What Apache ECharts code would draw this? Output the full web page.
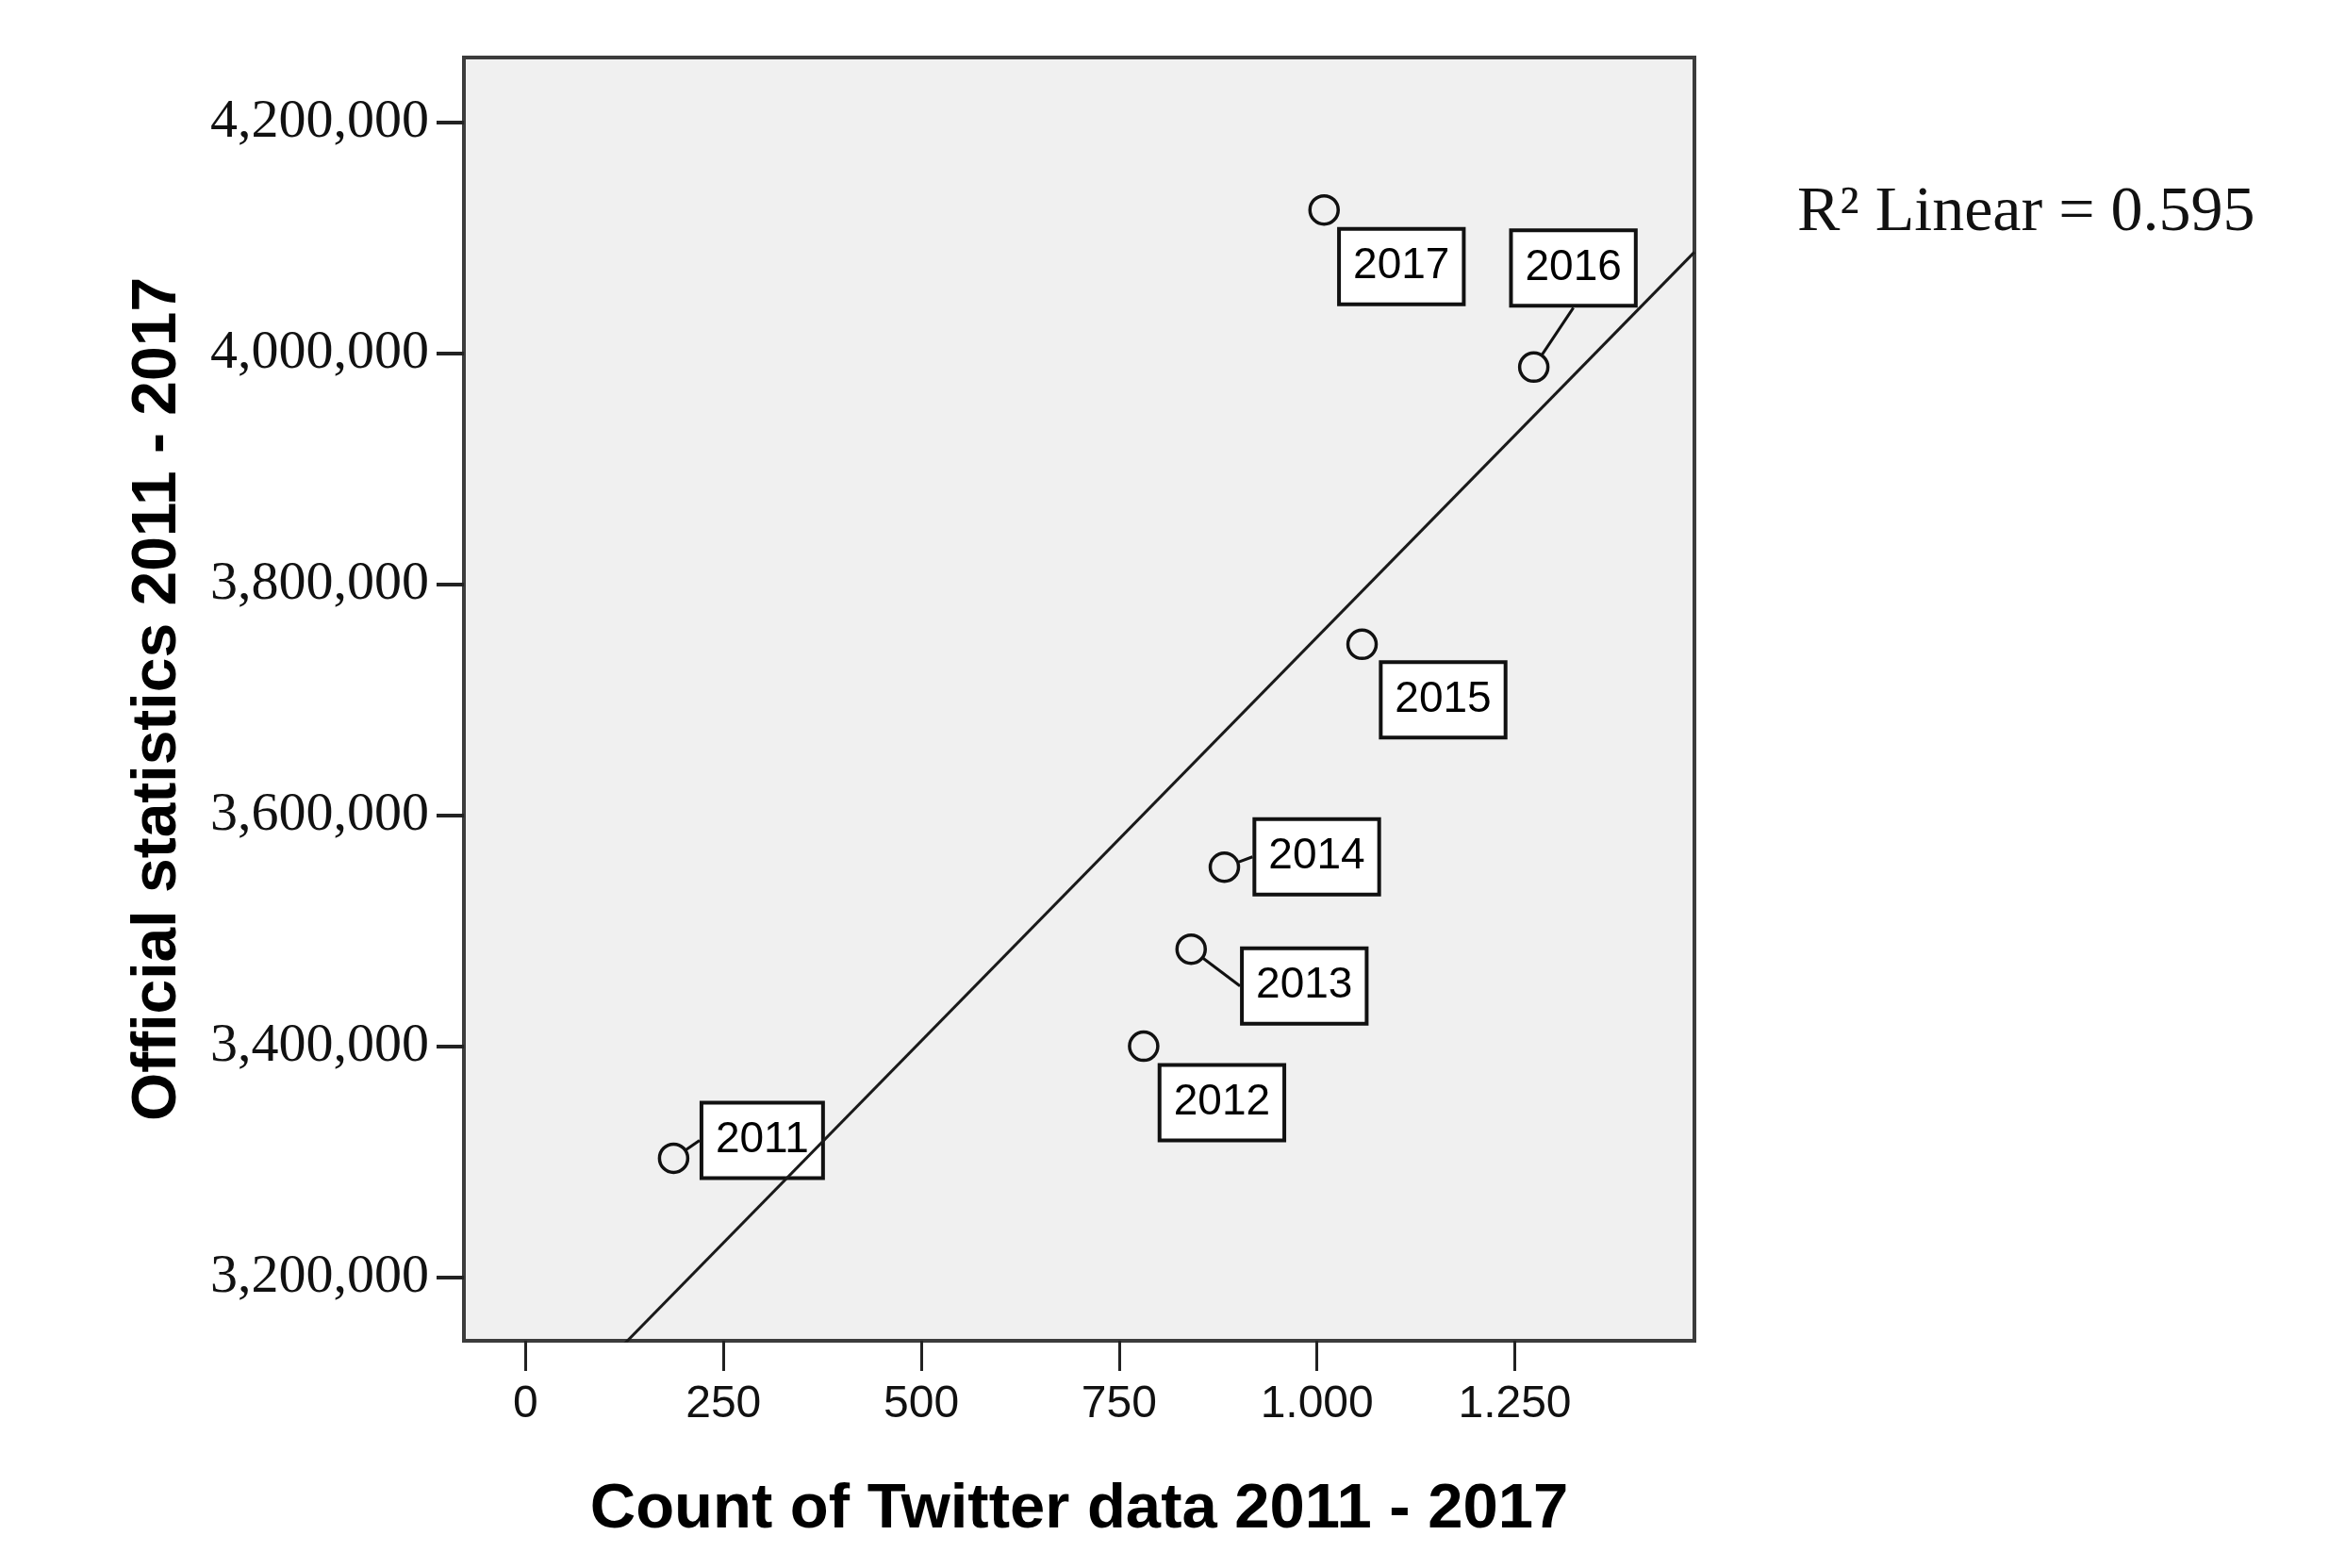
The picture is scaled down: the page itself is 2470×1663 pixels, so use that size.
<!DOCTYPE html>
<html>
<head>
<meta charset="utf-8">
<title>Official statistics vs Twitter data</title>
<script src="https://cdn.jsdelivr.net/npm/echarts@6/dist/echarts.min.js"></script>
<style>
  html, body { margin: 0; padding: 0; background: #fff; }
  #main { width: 2470px; height: 1663px; }
</style>
</head>
<body>
<div id="main"></div>
<script>
// values
var years = ['2011', '2012', '2013', '2014', '2015', '2016', '2017'];
var twitterCounts = [187, 781, 841, 883, 1057, 1274, 1009];
var officialStats = [3303000, 3400000, 3484000, 3555000, 3748000, 3988000, 4124000];
var xTicks = [0, 250, 500, 750, 1000, 1250];
var yTicks = [3200000, 3400000, 3600000, 3800000, 4000000, 4200000];
var xRange = [-78, 1477];
var yRange = [3145000, 4256000];

// where each year label sits relative to its point (px), and which get a leader line
var labelOffsets = [[94, -19], [83, 60], [120, 39], [98, -11], [86, 59], [42, -105], [82, 60]];
var withLeader = ['2011', '2013', '2014', '2016'];

var thousands = function (v, sep) {
  return String(v).replace(/\B(?=(\d{3})+(?!\d))/g, sep);
};

// least squares fit line
var fitLine = function () {
  var n = twitterCounts.length, mx = 0, my = 0;
  for (var i = 0; i < n; i++) { mx += twitterCounts[i]; my += officialStats[i]; }
  mx /= n; my /= n;
  var sxy = 0, sxx = 0;
  for (var j = 0; j < n; j++) {
    sxy += (twitterCounts[j] - mx) * (officialStats[j] - my);
    sxx += (twitterCounts[j] - mx) * (twitterCounts[j] - mx);
  }
  var b = sxy / sxx, a = my - b * mx;
  return [[xRange[0], a + b * xRange[0]], [xRange[1], a + b * xRange[1]]];
};

var points = years.map(function (y, i) {
  return {
    name: y,
    value: [twitterCounts[i], officialStats[i]],
    labelLine: { show: withLeader.indexOf(y) >= 0 }
  };
});

var chart = echarts.init(document.getElementById('main'));
chart.setOption({
  animation: false,
  backgroundColor: '#ffffff',
  grid: {
    left: 492, right: 673, top: 61, bottom: 241,
    show: true,
    backgroundColor: '#f0f0f0',
    borderColor: '#3c3c3c',
    borderWidth: 4
  },
  xAxis: {
    type: 'value',
    min: xRange[0],
    max: xRange[1],
    name: 'Count of Twitter data 2011 - 2017',
    nameLocation: 'middle',
    nameGap: 146,
    nameTextStyle: { fontFamily: 'Liberation Sans', fontWeight: 'bold', fontSize: 67, color: '#000' },
    axisLine: { show: false, onZero: false },
    splitLine: { show: false },
    axisTick: {
      show: true, inside: false, length: 32,
      customValues: xTicks,
      lineStyle: { color: '#222', width: 3 }
    },
    axisLabel: {
      customValues: xTicks,
      margin: 44,
      fontFamily: 'Liberation Sans',
      fontSize: 48,
      color: '#111',
      formatter: function (v) { return thousands(v, '.'); }
    }
  },
  yAxis: {
    type: 'value',
    min: yRange[0],
    max: yRange[1],
    name: 'Official statistics 2011 - 2017',
    nameLocation: 'middle',
    nameGap: 291,
    nameTextStyle: { fontFamily: 'Liberation Sans', fontWeight: 'bold', fontSize: 66, color: '#000' },
    axisLine: { show: false, onZero: false },
    splitLine: { show: false },
    axisTick: {
      show: true, inside: false, length: 29,
      customValues: yTicks,
      lineStyle: { color: '#222', width: 4 }
    },
    axisLabel: {
      customValues: yTicks,
      margin: 37,
      fontFamily: 'Liberation Serif',
      fontSize: 58,
      color: '#111',
      formatter: function (v) { return thousands(v, ','); }
    }
  },
  graphic: [{
    type: 'text',
    left: 1906,
    top: 192,
    style: {
      text: 'R\u00b2 Linear = 0.595',
      font: '68px "Liberation Serif"',
      fill: '#111'
    }
  }],
  series: [
    {
      type: 'scatter',
      data: points,
      symbol: 'circle',
      symbolSize: 30,
      itemStyle: { color: 'rgba(0,0,0,0)', borderColor: '#111', borderWidth: 3.5, opacity: 1 },
      label: {
        show: true,
        position: 'inside',
        formatter: '{b}',
        fontFamily: 'Liberation Sans',
        fontSize: 46,
        color: '#000',
        opacity: 1,
        backgroundColor: '#ffffff',
        borderColor: '#111',
        borderWidth: 4,
        padding: [16, 13, 14, 13]
      },
      labelLine: {
        lineStyle: { color: '#111', width: 3, opacity: 1 }
      },
      labelLayout: function (p) {
        var o = labelOffsets[p.dataIndex];
        return { dx: o[0], dy: o[1] };
      },
      z: 2
    },
    {
      // fit line sits on top of the labels, as in the original
      type: 'line',
      data: fitLine(),
      symbol: 'none',
      clip: true,
      lineStyle: { color: '#1a1a1a', width: 3 },
      zlevel: 1,
      z: 5
    }
  ]
});
</script>
</body>
</html>
